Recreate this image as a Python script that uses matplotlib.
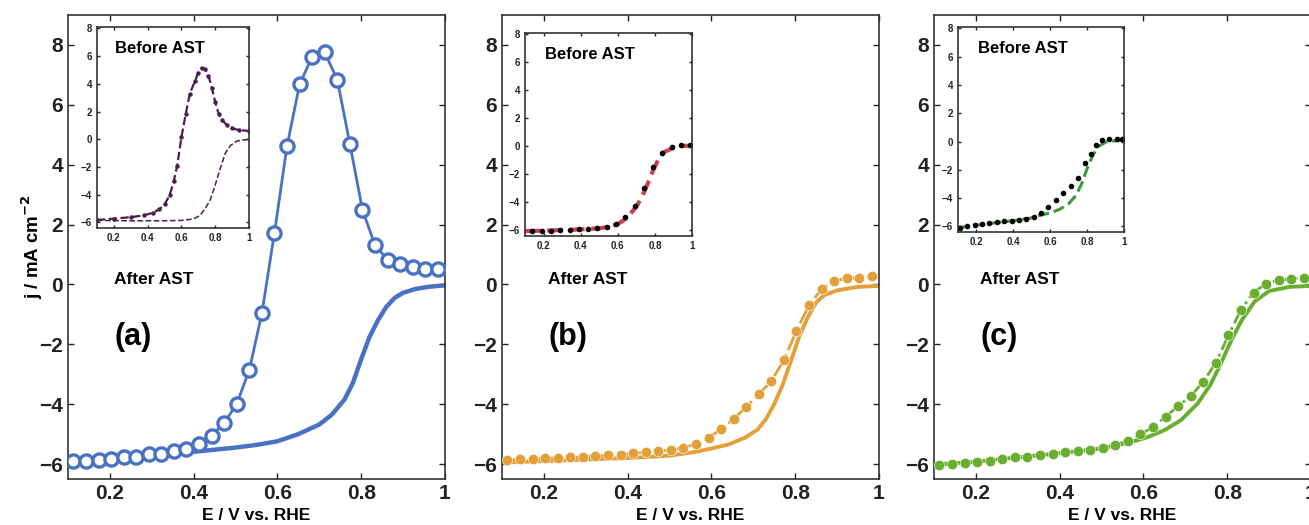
import matplotlib
matplotlib.use("Agg")
import matplotlib.pyplot as plt
from matplotlib.ticker import FuncFormatter

plt.rcParams['font.family'] = ['Liberation Sans', 'DejaVu Sans']
plt.rcParams['font.weight'] = 'bold'

# potential grid of the marker series (V vs RHE)
e_pts = [0.113, 0.143, 0.173, 0.203, 0.233, 0.263, 0.293, 0.323, 0.353, 0.383,
         0.413, 0.443, 0.473, 0.503, 0.533, 0.563, 0.593, 0.623, 0.653, 0.683,
         0.713, 0.743, 0.773, 0.803, 0.833, 0.863, 0.893, 0.923, 0.953, 0.983]

# (a) after AST
a_circ = [-5.91, -5.91, -5.86, -5.82, -5.77, -5.75, -5.68, -5.66, -5.57, -5.50,
          -5.32, -5.05, -4.63, -3.99, -2.86, -0.97, 1.72, 4.62, 6.68, 7.61,
          7.75, 6.84, 4.70, 2.50, 1.31, 0.83, 0.67, 0.57, 0.51, 0.51]
a_sol_x = [0.1, 0.2, 0.3, 0.38, 0.45, 0.5, 0.55, 0.6, 0.65, 0.7, 0.73, 0.76, 0.78,
           0.8, 0.82, 0.84, 0.86, 0.88, 0.9, 0.93, 0.96, 1.0]
a_sol_y = [-5.95, -5.85, -5.75, -5.62, -5.52, -5.45, -5.36, -5.24, -5.0, -4.68, -4.35,
           -3.85, -3.3, -2.5, -1.75, -1.2, -0.75, -0.45, -0.28, -0.15, -0.08, -0.03]

# (b) after AST
b_dots = [-5.87, -5.84, -5.83, -5.81, -5.80, -5.78, -5.76, -5.73, -5.71, -5.69,
          -5.64, -5.61, -5.58, -5.52, -5.46, -5.33, -5.13, -4.83, -4.50, -4.09,
          -3.67, -3.23, -2.53, -1.55, -0.69, -0.16, 0.12, 0.20, 0.23, 0.27]
b_sol_x = [0.1, 0.2, 0.3, 0.4, 0.5, 0.56, 0.6, 0.64, 0.68, 0.71, 0.73, 0.75, 0.77,
           0.79, 0.81, 0.83, 0.85, 0.87, 0.9, 0.95, 1.0]
b_sol_y = [-5.95, -5.9, -5.85, -5.8, -5.72, -5.6, -5.48, -5.35, -5.12, -4.85, -4.5,
           -4.0, -3.35, -2.55, -1.72, -1.1, -0.6, -0.35, -0.2, -0.08, -0.05]

# (c) after AST
c_dots = [-6.03, -6.01, -5.98, -5.92, -5.89, -5.83, -5.78, -5.76, -5.70, -5.66,
          -5.61, -5.58, -5.53, -5.46, -5.36, -5.22, -5.01, -4.76, -4.42, -4.06,
          -3.73, -3.25, -2.61, -1.70, -0.84, -0.27, 0.03, 0.14, 0.18, 0.23]
c_sol_x = [0.1, 0.2, 0.3, 0.4, 0.5, 0.57, 0.61, 0.65, 0.69, 0.73, 0.76, 0.785, 0.81,
           0.835, 0.865, 0.9, 0.95, 1.0]
c_sol_y = [-6.02, -5.92, -5.78, -5.64, -5.48, -5.27, -5.1, -4.87, -4.53, -3.97, -3.35,
           -2.64, -1.86, -1.19, -0.58, -0.22, -0.08, -0.05]

# insets: before AST
ia_pk_x = [0.1, 0.2, 0.3, 0.38, 0.43, 0.47, 0.5, 0.53, 0.555, 0.575, 0.6, 0.625, 0.65,
           0.68, 0.7, 0.72, 0.74, 0.76, 0.78, 0.8, 0.82, 0.84, 0.87, 0.9, 0.94, 1.0]
ia_pk_y = [-5.82, -5.72, -5.62, -5.48, -5.3, -5.05, -4.7, -4.05, -3.0, -1.9, 0.15, 1.8,
           3.3, 4.2, 4.8, 5.15, 5.05, 4.6, 3.7, 2.7, 1.85, 1.4, 1.0, 0.8, 0.66, 0.6]
ia_lo_x = [0.1, 0.3, 0.5, 0.6, 0.67, 0.71, 0.74, 0.77, 0.8, 0.83, 0.86, 0.89, 0.93, 1.0]
ia_lo_y = [-5.85, -5.88, -5.88, -5.85, -5.75, -5.5, -5.0, -4.4, -3.3, -2.1, -1.0,
           -0.45, -0.12, 0.0]

ib_dot_x = [0.14, 0.19, 0.24, 0.29, 0.34, 0.39, 0.44, 0.49, 0.54, 0.59, 0.64, 0.69,
            0.74, 0.79, 0.84, 0.89, 0.94, 0.99]
ib_dot_y = [-6.07, -6.03, -6.02, -5.99, -5.96, -5.93, -5.89, -5.84, -5.74, -5.55,
            -5.05, -4.25, -3.0, -1.45, -0.45, -0.08, 0.08, 0.1]
ib_ln_x = [0.1, 0.2, 0.3, 0.4, 0.5, 0.55, 0.6, 0.65, 0.7, 0.73, 0.76, 0.79, 0.82,
           0.85, 0.9, 0.95, 1.0]
ib_ln_y = [-6.05, -6.02, -5.98, -5.93, -5.85, -5.75, -5.55, -5.1, -4.3, -3.6, -2.7,
           -1.7, -0.9, -0.4, -0.1, 0.03, 0.05]

ic_dot_x = [0.11, 0.15, 0.19, 0.23, 0.27, 0.31, 0.35, 0.39, 0.43, 0.47, 0.51, 0.55,
            0.59, 0.63, 0.67, 0.71, 0.75, 0.79, 0.82, 0.85, 0.88, 0.92, 0.96, 0.99]
ic_dot_y = [-6.1, -6.0, -5.9, -5.82, -5.76, -5.7, -5.65, -5.6, -5.55, -5.48, -5.35,
            -5.05, -4.6, -4.15, -3.65, -3.15, -2.55, -1.55, -0.85, -0.25, 0.1, 0.18,
            0.2, 0.18]
ic_ln_x = [0.1, 0.2, 0.3, 0.4, 0.5, 0.55, 0.6, 0.65, 0.7, 0.74, 0.77, 0.8, 0.83,
           0.86, 0.9, 0.95, 1.0]
ic_ln_y = [-6.1, -5.92, -5.75, -5.6, -5.4, -5.2, -5.05, -4.8, -4.4, -3.8, -3.0, -1.9,
           -1.0, -0.35, -0.05, 0.05, 0.08]

xticks = [0.2, 0.4, 0.6, 0.8, 1.0]
yticks = [-6, -4, -2, 0, 2, 4, 6, 8]
BLUE, ORANGE, GREEN = '#4A72C4', '#E3A03A', '#69AE2F'
fmt = FuncFormatter(lambda v, p: ('%g' % v).replace('-', '\u2212'))


def style(ax, size, length):
    ax.set_xlim(0.1, 1.0)
    ax.set_xticks(xticks)
    ax.set_yticks(yticks)
    ax.xaxis.set_major_formatter(fmt)
    ax.yaxis.set_major_formatter(fmt)
    ax.tick_params(direction='in', top=True, right=True, length=length,
                   width=1, labelsize=size, colors='#222222')
    for lab in ax.get_xticklabels() + ax.get_yticklabels():
        lab.set_fontweight('bold')
    for s in ax.spines.values():
        s.set_color('#333333')
        s.set_linewidth(1.2)


fig = plt.figure(figsize=(13.09, 5.25), dpi=100)
lefts = [0.0519, 0.3835, 0.7135]
axs = [fig.add_axes([l, 0.0876, 0.288, 0.8838]) for l in lefts]

for ax in axs:
    style(ax, 15, 4)
    ax.set_ylim(-6.5, 9.0)
    ax.set_xlabel('E / V vs. RHE', fontsize=12.5, fontweight='bold')
    ax.xaxis.set_label_coords(0.5, -0.062)
    ax.text(0.21, 0.15, 'After AST', fontsize=12.5, fontweight='bold', va='center')

axs[0].set_ylabel('j / mA cm$^{\\mathbf{-2}}$', fontsize=13.5, fontweight='bold')
axs[0].yaxis.set_label_coords(-0.06, 0.5)

# (a)
axs[0].plot(e_pts, a_circ, '-o', color=BLUE, lw=2.0, ms=9.5, mfc='white',
            mec=BLUE, mew=2.4, zorder=3)
axs[0].plot(a_sol_x, a_sol_y, '-', color=BLUE, lw=3.2, zorder=2)
# (b)
axs[1].plot(b_sol_x, b_sol_y, '-', color=ORANGE, lw=2.8, zorder=2)
axs[1].plot(e_pts, b_dots, '-.', marker='o', color=ORANGE, lw=2.0, ms=7.5,
            mec='white', mew=0.4, zorder=3)
# (c)
axs[2].plot(c_sol_x, c_sol_y, '-', color=GREEN, lw=2.8, zorder=2)
axs[2].plot(e_pts, c_dots, '-.', marker='o', color=GREEN, lw=2.0, ms=7.5,
            mec='white', mew=0.4, zorder=3)

for ax, tag in zip(axs, ['(a)', '(b)', '(c)']):
    ax.text(0.21, -1.75, tag, fontsize=22, fontweight='bold', va='center')

# insets with the curves before AST
ins = [fig.add_axes([0.0741, 0.5657, 0.1161, 0.3829]),
       fig.add_axes([0.4011, 0.5505, 0.1276, 0.3867]),
       fig.add_axes([0.7319, 0.5581, 0.1268, 0.3905])]
for ia in ins:
    style(ia, 7, 2.5)
    ia.set_ylim(-6.4, 8.1)
    ia.text(0.12, 0.895, 'Before AST', transform=ia.transAxes, fontsize=12,
            fontweight='bold', va='center')

PURPLE = '#4D1D50'
ins[0].plot(ia_pk_x, ia_pk_y, '--', color=PURPLE, lw=1.6, marker='o', ms=2.2)
ins[0].plot(ia_lo_x, ia_lo_y, '--', color=PURPLE, lw=1.1)

ins[1].plot(ib_ln_x, ib_ln_y, '--', color='#C9434F', lw=3.0)
ins[1].plot(ib_dot_x, ib_dot_y, 'o', color='black', ms=3)

ins[2].plot(ic_ln_x, ic_ln_y, '--', color='#3A9A3A', lw=2.2)
ins[2].plot(ic_dot_x, ic_dot_y, 'o', color='black', ms=3)

fig.savefig('out.png', dpi=100)
